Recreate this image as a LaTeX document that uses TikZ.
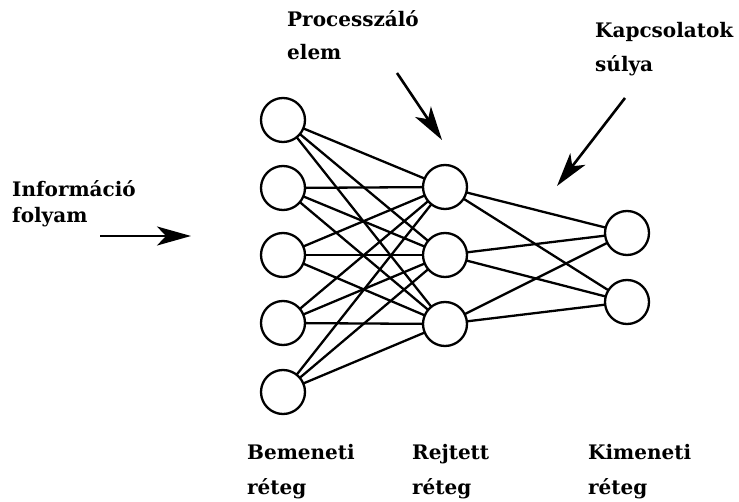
\documentclass[tikz,border=0pt]{standalone}
\usepackage{fontspec}
\setmainfont{DejaVu Serif}
\usetikzlibrary{arrows.meta}
\begin{document}
\begin{tikzpicture}[x=1pt,y=-1pt,
  neuron/.style={circle,draw=black,line width=2.3pt,fill=white,minimum size=44pt,inner sep=0pt},
  link/.style={line width=2.3pt},
  lbl/.style={anchor=base west,inner sep=0pt,font=\fontsize{20}{24}\selectfont\bfseries},
  pointer/.style={line width=2.6pt,-{Stealth[length=34pt,width=19pt,inset=9pt]}}]
\useasboundingbox (0,0) rectangle (739,502);
% input layer
\foreach \i/\y in {1/120,2/188,3/255,4/323,5/392}
  \coordinate (pi\i) at (283,\y);
% hidden layer
\foreach \j/\y in {1/187,2/255,3/324}
  \coordinate (ph\j) at (445,\y);
% output layer
\foreach \k/\y in {1/233,2/302}
  \coordinate (po\k) at (627,\y);
% connections
\foreach \i in {1,...,5}
  \foreach \j in {1,2,3}
    \draw[link] (pi\i) -- (ph\j);
\foreach \j in {1,2,3}
  \foreach \k in {1,2}
    \draw[link] (ph\j) -- (po\k);
% neurons
\foreach \i in {1,...,5} \node[neuron] (in\i) at (pi\i) {};
\foreach \j in {1,2,3} \node[neuron] (hid\j) at (ph\j) {};
\foreach \k in {1,2} \node[neuron] (out\k) at (po\k) {};
% labels
\node[lbl] (info1) at (12,197) {Információ};
\node[lbl] (info2) at (12,223) {folyam};
\node[lbl] (proc1) at (287,27) {Processzáló};
\node[lbl] (proc2) at (287,60) {elem};
\node[lbl] (kap1) at (595,38) {Kapcsolatok};
\node[lbl] (kap2) at (595,72) {súlya};
\node[lbl] (bem1) at (247,459) {Bemeneti};
\node[lbl] (bem2) at (247,494) {réteg};
\node[lbl] (rej1) at (412,459) {Rejtett};
\node[lbl] (rej2) at (412,494) {réteg};
\node[lbl] (kim1) at (588,459) {Kimeneti};
\node[lbl] (kim2) at (588,494) {réteg};
% pointer arrows
\coordinate (infoA) at (100,236);
\coordinate (infoB) at (191,236);
\coordinate (procA) at (397,73);
\coordinate (procB) at (442,140);
\coordinate (kapA) at (625,98);
\coordinate (kapB) at (557,186);
\draw[pointer] (infoA) -- (infoB);
\draw[pointer] (procA) -- (procB);
\draw[pointer] (kapA) -- (kapB);
\end{tikzpicture}
\end{document}
